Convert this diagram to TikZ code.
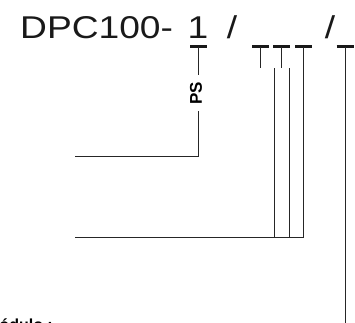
\documentclass[tikz,border=0pt]{standalone}
\usepackage{fontspec}
\setmainfont{Liberation Sans}
\newfontfamily\codefont{Liberation Sans}[FakeStretch=1.18]
\begin{document}
\begin{tikzpicture}[x=1pt,y=-1pt,
    wire/.style={line width=0.9pt,draw=black!85},
    slot/.style={line width=3pt,draw=black!90},
    code/.style={anchor=base,inner sep=0,text=black!90,
      font=\codefont\fontsize{31.5}{34}\selectfont}]
  \useasboundingbox (0,0) rectangle (355,322);

  \node[code,anchor=base west] (name) at (20,38.3) {DPC100-};
  \node[code] (one) at (198,38.3) {1};
  \node[code] (sl1) at (232,38.3) {/};
  \node[code] (sl2) at (330,38.3) {/};

  \coordinate (s1) at (198.5,46.5);
  \coordinate (s2) at (260.5,46.5);
  \coordinate (s3) at (281.5,46.5);
  \coordinate (s4) at (303.5,46.5);
  \coordinate (s5) at (345,46.5);
  \foreach \s in {1,...,5}
    \draw[slot] ([xshift=-8.5pt]s\s) -- ([xshift=8.5pt]s\s);

  \node[rotate=90,inner xsep=7pt,inner ysep=0,outer sep=0,
    font=\bfseries\fontsize{17}{19}\selectfont] (ps) at (196,93) {PS};

  \coordinate (m1) at (75,156);
  \coordinate (m2) at (75,237);
  \coordinate (t2) at (260.5,68);
  \coordinate (t3) at (281.5,68);
  \coordinate (u1) at (274,68);
  \coordinate (u2) at (289,68);
  \coordinate (e5) at (345,325);

  \draw[wire] (s1) -- (s1 |- ps.east);
  \draw[wire] (s1 |- ps.west) |- (m1);
  \draw[wire] (s2) -- (t2);
  \draw[wire] (s3) -- (t3);
  \draw[wire] (s4) |- (m2);
  \draw[wire] (u1) -- (u1 |- m2);
  \draw[wire] (u2) -- (u2 |- m2);
  \draw[wire] (s5) -- (e5);

  \node[anchor=base east,inner sep=0,
    font=\bfseries\fontsize{16}{18}\selectfont] (mod) at (53,330) {Módulo :};
\end{tikzpicture}
\end{document}
